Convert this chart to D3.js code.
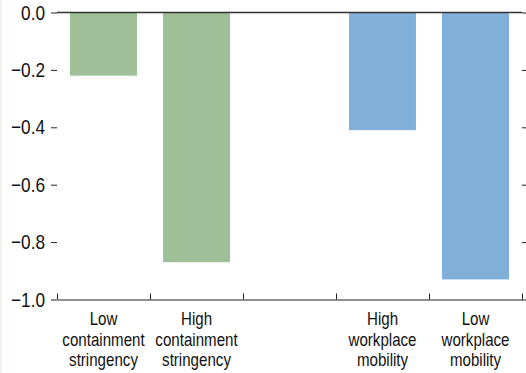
<!DOCTYPE html>
<html>
<head>
<meta charset="utf-8">
<script src="https://cdn.jsdelivr.net/npm/d3@7"></script>
<style>
  html, body { margin: 0; padding: 0; background: #fff; }
  svg { display: block; }
  text { font-family: "Liberation Sans", Arial, sans-serif; fill: #111; }
</style>
</head>
<body>
<svg id="chart" width="526" height="373"></svg>
<script>
// Data
const categories = ["low_cont", "high_cont", "gap", "high_work", "low_work"];
const labels = [
  ["Low", "containment", "stringency"],
  ["High", "containment", "stringency"],
  [],
  ["High", "workplace", "mobility"],
  ["Low", "workplace", "mobility"]
];
const values = [-0.22, -0.87, null, -0.41, -0.93];
const groups = ["green", "green", null, "blue", "blue"];
const yTicks = [0, -0.2, -0.4, -0.6, -0.8, -1.0];

const colors = { green: "#9ebf97", blue: "#80b0d9" };

(function () {
const svg = d3.select("#chart");
const mLeft = 57, mRight = 522, mTop = 12.5, mBottom = 299.5;
const FONT = '"Liberation Sans", Arial, sans-serif';
const SX = 0.84; // horizontal condensing to mimic a narrow typeface

// faint left border strip
svg.append("rect").attr("x", 0).attr("y", 0).attr("width", 2).attr("height", 373).attr("fill", "#eef4ee");

const xb = d3.scaleBand().domain(categories).range([mLeft, mRight]);
const y = d3.scaleLinear().domain([-1, 0]).range([mBottom, mTop]);

// bars
const barData = categories.map((c, i) => ({ c, v: values[i], g: groups[i] })).filter(d => d.v !== null);
const bw = xb.bandwidth() * 0.72;
svg.append("g").selectAll("rect").data(barData).join("rect")
  .attr("x", d => xb(d.c) + (xb.bandwidth() - bw) / 2)
  .attr("y", d => y(0))
  .attr("width", bw)
  .attr("height", d => y(d.v) - y(0))
  .attr("fill", d => colors[d.g]);

// left y axis (ticks outside, no domain line)
const fmt = v => (v === 0 ? "0.0" : "\u2212" + Math.abs(v).toFixed(1));
const yl = svg.append("g").attr("transform", `translate(${mLeft},0)`)
  .call(d3.axisLeft(y).tickValues(yTicks).tickFormat(fmt).tickSize(6).tickPadding(5));
yl.select(".domain").remove();
yl.selectAll("text")
  .style("font-size", "20.5px").attr("font-family", FONT).attr("fill", "#111")
  .attr("x", -12 / SX).attr("transform", `scale(${SX},1)`);
yl.selectAll("line").attr("stroke", "#222");

// right y axis ticks
const yr = svg.append("g").attr("transform", `translate(${mRight},0)`)
  .call(d3.axisRight(y).tickValues(yTicks).tickFormat("").tickSize(5));
yr.select(".domain").remove();
yr.selectAll("line").attr("stroke", "#222");

// zero line
svg.append("line").attr("x1", mLeft).attr("x2", mRight).attr("y1", y(0)).attr("y2", y(0))
  .attr("stroke", "#333").attr("stroke-width", 1.3);

// bottom axis with inner ticks at band boundaries
const boundaries = categories.map(c => xb(c)).concat([mRight]);
const xl = d3.scaleLinear().domain([mLeft, mRight]).range([mLeft, mRight]);
const xa = svg.append("g").attr("transform", `translate(0,${mBottom})`)
  .call(d3.axisBottom(xl).tickValues(boundaries).tickFormat("").tickSize(-6).tickSizeOuter(0));
xa.select(".domain").attr("stroke", "#222").attr("stroke-width", 1.2);
xa.selectAll("line").attr("stroke", "#222");

// category labels
const lab = svg.append("g");
categories.forEach((c, i) => {
  const cx = xb(c) + xb.bandwidth() / 2;
  labels[i].forEach((t, j) => {
    lab.append("text")
      .attr("transform", `translate(${cx},${325 + j * 20.5}) scale(${SX},1)`)
      .attr("text-anchor", "middle").style("font-size", "18px").attr("font-family", FONT).text(t);
  });
});
})();
</script>
</body>
</html>
